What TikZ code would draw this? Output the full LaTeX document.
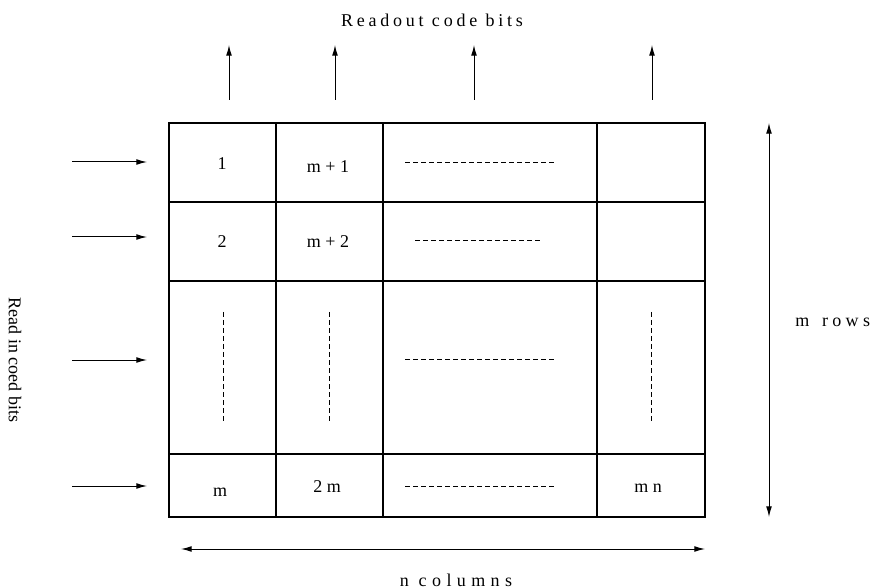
\documentclass[tikz,border=0pt]{standalone}
\usepackage{fontspec}
\setmainfont{Liberation Serif}
\usetikzlibrary{arrows.meta}
\begin{document}
\begin{tikzpicture}[x=0.75pt,y=-0.75pt,
  gridline/.style={line width=0.8pt},
  arr/.style={line width=0.75pt,-{Latex[length=8pt,width=4.4pt]}},
  darr/.style={line width=0.75pt,{Latex[length=8pt,width=4.4pt]}-{Latex[length=8pt,width=4.4pt]}},
  dotline/.style={line width=0.75pt,dash pattern=on 3.6pt off 2.4pt},
  lbl/.style={font=\fontsize{13.5}{16}\selectfont, inner sep=0pt},
]
\useasboundingbox (0,0) rectangle (872,588);
% grid
\draw[gridline] (169,123) rectangle (705,517);
\foreach \x in {276,383,597} \draw[gridline] (\x,123) -- (\x,517);
\foreach \y in {202,281,454} \draw[gridline] (169,\y) -- (705,\y);
% cell labels
\node[lbl,anchor=base] (c11) at (222,170) {1};
\node[lbl,anchor=base] (c12) at (328,173) {m + 1};
\node[lbl,anchor=base] (c21) at (222,248) {2};
\node[lbl,anchor=base] (c22) at (328,248) {m + 2};
\node[lbl,anchor=base] (c41) at (220,496) {m};
\node[lbl,anchor=base] (c42) at (327,492) {2 m};
\node[lbl,anchor=base] (c44) at (648,492) {m n};
% dotted fills
\draw[dotline] (405,163) -- (556,163);
\draw[dotline] (415,241) -- (542,241);
\draw[dotline] (405,359) -- (556,359);
\draw[dotline] (405,486) -- (556,486);
\draw[dotline] (223,312) -- (223,423);
\draw[dotline] (329,312) -- (329,423);
\draw[dotline] (651,312) -- (651,423);
% input arrows
\foreach \y/\n in {162/1,237/2,360/3,486/4}{
  \coordinate (in\n a) at (72,\y);
  \coordinate (in\n b) at (147,\y);
  \draw[arr] (in\n a) -- (in\n b);
}
% output arrows
\foreach \x/\n in {229/1,335/2,474/3,652/4}{
  \coordinate (out\n a) at (\x,100);
  \coordinate (out\n b) at (\x,45);
  \draw[arr] (out\n a) -- (out\n b);
}
% dimension arrows
\coordinate (rt) at (769,123);
\coordinate (rb) at (769,517);
\draw[darr] (rt) -- (rb);
\coordinate (bl) at (181,549);
\coordinate (br) at (705,549);
\draw[darr] (bl) -- (br);
% labels
\node[lbl,anchor=base] (title) at (432,27) {\addfontfeature{LetterSpace=21}Readout code bits};
\node[lbl,anchor=base west] (rows) at (795,326) {\addfontfeature{LetterSpace=24}m\hspace{3pt} rows};
\node[lbl,anchor=base] (cols) at (456,586) {\addfontfeature{LetterSpace=30}n columns};
\node[lbl,rotate=-90] (readin) at (15,360) {Read in coed bits};
\end{tikzpicture}
\end{document}
